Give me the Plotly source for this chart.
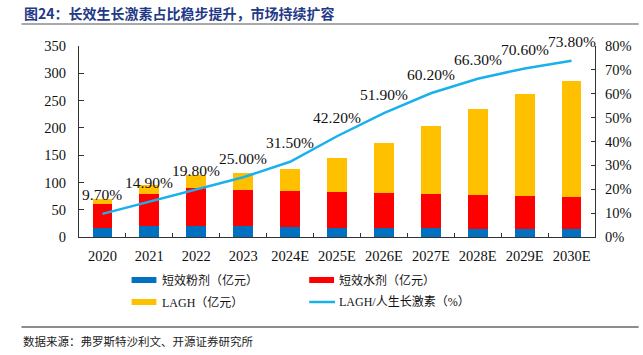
import plotly.graph_objects as go

categories = ["2020", "2021", "2022", "2023", "2024E", "2025E", "2026E",
              "2027E", "2028E", "2029E", "2030E"]
powder = [16.5, 20.0, 20.0, 20.0, 18.3, 17.0, 17.0, 16.0, 15.3, 15.0, 14.5]
water = [44.0, 58.5, 69.5, 65.5, 66.0, 65.0, 63.6, 62.8, 61.7, 60.7, 58.8]
lagh = [8.5, 16.0, 23.5, 31.5, 41.0, 63.5, 91.7, 124.0, 158.3, 186.4, 213.3]
share = [9.7, 14.9, 19.8, 25.0, 31.5, 42.2, 51.9, 60.2, 66.3, 70.6, 73.8]
left_ticks = [0, 50, 100, 150, 200, 250, 300, 350]
right_ticks = [0, 10, 20, 30, 40, 50, 60, 70, 80]
right_labels = ["0%", "10%", "20%", "30%", "40%", "50%", "60%", "70%", "80%"]

series_names = ["短效粉剂（亿元）", "短效水剂（亿元）", "LAGH（亿元）", "LAGH/人生长激素（%）"]
title_text = "图24：长效生长激素占比稳步提升，市场持续扩容"
source_text = "数据来源：弗罗斯特沙利文、开源证券研究所"

C_BLUE = "#0070C0"
C_RED = "#FF0000"
C_YEL = "#FFC000"
C_LINE = "#1AB0EC"
SERIF = "Liberation Serif, Times New Roman, serif"
MIX = "Liberation Serif, Noto Sans CJK SC, serif"

W, H = 643, 355
L, R, T, B = 79, 44, 46, 118
PW, PH = W - L - R, H - T - B


def px(x):
    return (x - L) / PW


def py(y):
    return (H - B - y) / PH


fig = go.Figure()
for vals, col, name in [(powder, C_BLUE, series_names[0]),
                        (water, C_RED, series_names[1]),
                        (lagh, C_YEL, series_names[2])]:
    fig.add_trace(go.Bar(x=categories, y=vals, name=name, marker_color=col,
                         marker_line_width=0, showlegend=False, yaxis="y"))

fig.add_trace(go.Scatter(x=categories, y=share, name=series_names[3], mode="lines",
                         line=dict(color=C_LINE, width=2.5), yaxis="y2",
                         showlegend=False))

annotations = []
for i, v in enumerate(share):
    annotations.append(dict(x=i, y=v, xref="x", yref="y2", yshift=19,
                            text=f"{v:.2f}%", showarrow=False,
                            font=dict(family=SERIF, size=15.5, color="#111")))

# title
annotations.append(dict(x=px(22), y=py(12.5), xref="paper", yref="paper",
                        xanchor="left", yanchor="middle", showarrow=False,
                        text=f"<b>{title_text}</b>",
                        font=dict(family="Noto Sans CJK SC", size=14, color="#1F3A86")))
# source
annotations.append(dict(x=px(21), y=py(341), xref="paper", yref="paper",
                        xanchor="left", yanchor="middle", showarrow=False,
                        text=source_text,
                        font=dict(family="Noto Sans CJK SC", size=11.5, color="#222")))

shapes = [
    dict(type="line", xref="paper", yref="paper", x0=px(21), x1=px(643),
         y0=py(24), y1=py(24), line=dict(color="#8C8C8C", width=1.5)),
    dict(type="line", xref="paper", yref="paper", x0=px(21), x1=px(643),
         y0=py(327), y1=py(327), line=dict(color="#8C8C8C", width=2)),
]

# manual legend
legend_items = [
    (series_names[0], C_BLUE, "box", 132, 280),
    (series_names[1], C_RED, "box", 311, 280),
    (series_names[2], C_YEL, "box", 132, 302),
    (series_names[3], C_LINE, "line", 311, 302),
]
for name, col, kind, x0, yc in legend_items:
    if kind == "box":
        shapes.append(dict(type="rect", xref="paper", yref="paper",
                           x0=px(x0), x1=px(x0 + 25), y0=py(yc + 3), y1=py(yc - 3),
                           fillcolor=col, line=dict(width=0)))
    else:
        shapes.append(dict(type="line", xref="paper", yref="paper",
                           x0=px(x0), x1=px(x0 + 26), y0=py(yc), y1=py(yc),
                           line=dict(color=col, width=2.5)))
    annotations.append(dict(x=px(x0 + 28.5), y=py(yc), xref="paper", yref="paper",
                            xanchor="left", yanchor="middle", showarrow=False,
                            text=name, font=dict(family=MIX, size=12, color="#111")))

fig.update_layout(
    width=W, height=H,
    margin=dict(l=L, r=R, t=T, b=B, pad=0),
    paper_bgcolor="white", plot_bgcolor="white",
    barmode="stack", bargap=0.577,
    showlegend=False,
    xaxis=dict(type="category", range=[-0.5, len(categories) - 0.5],
               showline=True, linecolor="#333", linewidth=1,
               ticks="inside", tickson="boundaries", ticklen=4, tickcolor="#333",
               showgrid=False, tickangle=0,
               tickfont=dict(family=SERIF, size=14.5, color="#111"),
               ticklabelstandoff=6),
    yaxis=dict(range=[0, 350], tickvals=left_ticks, showline=True, linecolor="#333",
               linewidth=1, ticks="inside", ticklen=5, tickcolor="#333",
               showgrid=False, zeroline=False,
               tickfont=dict(family=SERIF, size=14.5, color="#111"),
               ticklabelstandoff=9),
    yaxis2=dict(range=[0, 80], tickmode="array", tickvals=right_ticks,
                ticktext=right_labels,
                overlaying="y", side="right", showline=True, linecolor="#333",
                linewidth=1, ticks="inside", ticklen=4, tickcolor="#333",
                showgrid=False, zeroline=False,
                tickfont=dict(family=SERIF, size=14.5, color="#111"),
                ticklabelstandoff=6),
    annotations=annotations,
    shapes=shapes,
)

fig.write_html("out.html", config={"displayModeBar": False},
               post_script="document.body.style.margin='0';document.body.style.overflow='hidden';")
